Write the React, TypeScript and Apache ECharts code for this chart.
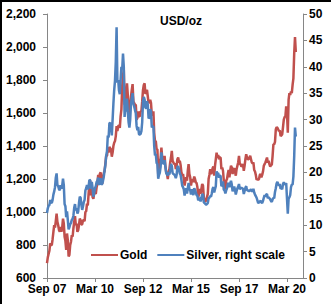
import React, { useEffect, useRef } from "react";
import * as echarts from "echarts";

// Semi-monthly observations, first point = early Sep 2007, step = half a month
const goldPrices: number[] = [
  690, 725, 745, 765, 810, 800, 800, 835,
  880, 920, 905, 945, 990, 940, 920, 890, 880, 910, 880, 905, 960, 930, 850, 825,
  770, 870, 830, 730, 740, 800, 820, 860,
  850, 900, 940, 975, 920, 930, 880, 890, 920, 960, 950, 925, 925, 950, 950, 945,
  1000, 1005, 1050, 1040, 1110, 1170, 1190, 1100,
  1140, 1090, 1080, 1115, 1115, 1110, 1150, 1170, 1225, 1190, 1230, 1240, 1200, 1170, 1205, 1235,
  1250, 1295, 1340, 1340, 1385, 1360, 1395, 1385,
  1380, 1335, 1360, 1400, 1420, 1430, 1460, 1520, 1490, 1520, 1525, 1510, 1580, 1620, 1760, 1830,
  1860, 1650, 1660, 1720, 1780, 1710, 1640, 1580,
  1640, 1700, 1740, 1775, 1670, 1660, 1650, 1650, 1560, 1570, 1610, 1580, 1580, 1610, 1610, 1670,
  1740, 1770, 1780, 1715, 1730, 1740, 1700, 1660,
  1670, 1680, 1660, 1590, 1590, 1610, 1480, 1430, 1430, 1380, 1380, 1230, 1260, 1320, 1320, 1390,
  1330, 1320, 1310, 1340, 1280, 1240, 1230, 1200,
  1240, 1260, 1300, 1330, 1370, 1310, 1300, 1290, 1295, 1260, 1275, 1320, 1330, 1300, 1310, 1285,
  1240, 1220, 1230, 1200, 1160, 1190, 1210, 1190,
  1250, 1290, 1230, 1210, 1160, 1190, 1200, 1180, 1215, 1200, 1180, 1175, 1150, 1090, 1110, 1140,
  1110, 1140, 1170, 1160, 1090, 1070, 1065, 1070,
  1090, 1110, 1200, 1225, 1260, 1230, 1240, 1265, 1275, 1220, 1280, 1320, 1360, 1330, 1345, 1320,
  1330, 1330, 1260, 1270, 1250, 1190, 1160, 1140,
  1190, 1200, 1230, 1255, 1210, 1250, 1280, 1270, 1230, 1260, 1265, 1245, 1220, 1260, 1280, 1300,
  1340, 1290, 1290, 1275, 1280, 1290, 1250, 1280,
  1320, 1350, 1330, 1320, 1320, 1330, 1340, 1320, 1300, 1295, 1300, 1255, 1245, 1225, 1195, 1200,
  1195, 1200, 1225, 1230, 1210, 1225, 1245, 1280,
  1290, 1300, 1315, 1330, 1300, 1310, 1290, 1275, 1285, 1285, 1340, 1410, 1410, 1425, 1500, 1515,
  1510, 1500, 1490, 1495, 1460, 1465, 1470, 1515,
  1560, 1575, 1580, 1640, 1600, 1480, 1680, 1720, 1710, 1730, 1720, 1770, 1810, 1960, 2060, 1970,
];

const silverPrices: number[] = [
  12.3, 13.2, 13.7, 13.8, 14.8, 14.3, 14.2, 14.8,
  15.8, 16.4, 17.2, 19.0, 19.8, 17.6, 17.4, 16.8, 16.6, 17.6, 16.9, 17.5, 18.8, 17.6, 14.0, 13.6,
  11.5, 12.6, 11.0, 9.2, 9.6, 10.2, 10.4, 11.0,
  11.2, 11.8, 13.3, 14.0, 12.8, 13.2, 12.2, 12.6, 14.2, 15.4, 15.2, 13.8, 12.9, 13.6, 14.4, 14.8,
  16.6, 17.0, 17.6, 16.8, 17.3, 18.6, 18.5, 16.9,
  18.2, 17.0, 15.4, 16.2, 17.0, 17.4, 18.2, 18.4, 19.0, 17.6, 18.4, 18.9, 17.7, 17.8, 18.4, 19.2,
  20.4, 21.4, 23.2, 24.0, 27.0, 26.6, 29.3, 29.4,
  28.6, 27.0, 30.0, 33.0, 35.6, 37.4, 41.0, 47.5, 37.0, 37.5, 35.5, 34.8, 37.5, 40.0, 39.5, 42.5,
  40.0, 30.5, 32.5, 31.5, 34.0, 31.5, 29.5, 28.5,
  30.0, 33.0, 34.0, 35.0, 33.0, 32.5, 31.8, 31.2, 28.8, 28.0, 28.6, 27.2, 27.2, 27.3, 27.8, 29.5,
  33.5, 34.3, 33.8, 32.2, 32.2, 33.5, 32.8, 30.2,
  30.4, 32.0, 31.5, 28.5, 28.7, 28.7, 25.0, 23.2, 23.5, 21.8, 21.6, 18.8, 19.5, 19.9, 21.0, 23.8,
  22.5, 21.8, 21.6, 22.3, 21.0, 19.9, 19.6, 19.4,
  20.0, 19.6, 20.5, 21.6, 21.2, 19.9, 19.7, 19.6, 19.4, 18.9, 19.5, 21.0, 21.2, 20.6, 19.8, 19.5,
  18.6, 17.5, 17.2, 16.8, 15.6, 16.5, 17.0, 16.0,
  17.0, 18.0, 16.8, 16.6, 15.8, 16.8, 16.3, 15.7, 17.0, 16.7, 16.2, 15.7, 15.6, 14.7, 15.0, 15.2,
  14.5, 15.2, 15.8, 15.8, 14.3, 14.2, 14.0, 13.9,
  14.0, 14.2, 15.1, 15.2, 15.5, 15.4, 16.0, 16.9, 17.2, 16.2, 16.8, 17.4, 20.2, 19.8, 19.9, 19.0,
  19.4, 19.3, 17.4, 17.6, 18.3, 16.7, 16.6, 16.0,
  16.6, 17.0, 17.8, 18.0, 17.2, 17.9, 18.4, 17.7, 16.4, 17.0, 17.3, 16.7, 15.8, 16.5, 17.0, 17.3,
  17.8, 16.8, 17.0, 17.1, 17.0, 16.9, 15.9, 16.5,
  17.1, 17.4, 16.6, 16.6, 16.5, 16.5, 16.6, 16.8, 16.5, 16.4, 16.9, 16.2, 15.8, 15.5, 15.2, 14.7,
  14.2, 14.3, 14.5, 14.6, 14.3, 14.2, 14.6, 15.2,
  15.7, 15.4, 15.8, 15.9, 15.1, 15.3, 15.1, 14.9, 14.6, 14.4, 14.9, 15.2, 15.1, 16.3, 17.0, 17.9,
  18.2, 17.8, 17.5, 17.8, 16.9, 17.0, 16.8, 17.8,
  18.1, 17.8, 17.7, 18.0, 15.0, 12.2, 15.0, 15.3, 15.7, 17.2, 17.7, 17.7, 19.2, 23.0, 28.5, 26.8,
];

const xTickLabels = ["Sep 07", "Mar 10", "Sep 12", "Mar 15", "Sep 17", "Mar 20"];
const monthsPerTick = 30;
const axisEndMonths = 160;
const seriesNames = ["Gold", "Silver, right scale"];
const unitTitle = "USD/oz";

const FONT = "'Liberation Sans', Arial, sans-serif";
const GOLD = "#C0504D";
const SILVER = "#4F81BD";
const AXIS = "#868686";

export default function App() {
  const ref = useRef<HTMLDivElement>(null);

  useEffect(() => {
    if (!ref.current) return;
    const chart = echarts.init(ref.current, null, { renderer: "svg" });
    const tickValues = xTickLabels.map((_, i) => i * monthsPerTick);
    const labelStyle = { color: "#000", fontFamily: FONT, fontSize: 12, fontWeight: "bold" as const };
    chart.setOption({
      animation: false,
      backgroundColor: "#fff",
      grid: { left: 47, right: 28, top: 14, bottom: 26, containLabel: false },
      title: {
        text: unitTitle,
        left: 160,
        top: 15,
        padding: 0,
        textStyle: { ...labelStyle },
      },
      legend: {
        data: seriesNames,
        left: 91,
        top: 249,
        padding: 0,
        itemGap: 10,
        itemWidth: 27,
        itemHeight: 2,
        icon: "rect",
        textStyle: { ...labelStyle, padding: [0, 0, 0, -3] },
      },
      xAxis: {
        type: "value",
        min: 0,
        max: axisEndMonths,
        interval: monthsPerTick,
        splitLine: { show: false },
        axisLine: { show: true, lineStyle: { color: AXIS, width: 1 } },
        axisTick: { show: true, length: 4, lineStyle: { color: AXIS }, customValues: tickValues },
        axisLabel: {
          ...labelStyle,
          margin: 5,
          customValues: tickValues,
          formatter: (v: number) => xTickLabels[Math.round(v / monthsPerTick)] ?? "",
        },
      },
      yAxis: [
        {
          type: "value",
          min: 600,
          max: 2200,
          interval: 200,
          position: "left",
          splitLine: { show: false },
          axisLine: { show: true, lineStyle: { color: AXIS, width: 1 } },
          axisTick: { show: true, length: 4, lineStyle: { color: AXIS } },
          axisLabel: {
            ...labelStyle,
            margin: 11,
            formatter: (v: number) => v.toLocaleString("en-US"),
          },
        },
        {
          type: "value",
          min: 0,
          max: 50,
          interval: 5,
          position: "right",
          splitLine: { show: false },
          axisLine: { show: true, lineStyle: { color: AXIS, width: 1 } },
          axisTick: { show: true, length: 4, lineStyle: { color: AXIS } },
          axisLabel: { ...labelStyle, margin: 6 },
        },
      ],
      series: [
        {
          name: seriesNames[0],
          type: "line",
          yAxisIndex: 0,
          showSymbol: false,
          symbol: "none",
          color: GOLD,
          lineStyle: { color: GOLD, width: 2.5 },
          data: goldPrices.map((v, i) => [i / 2, v]),
        },
        {
          name: seriesNames[1],
          type: "line",
          yAxisIndex: 1,
          showSymbol: false,
          symbol: "none",
          color: SILVER,
          lineStyle: { color: SILVER, width: 2.5 },
          data: silverPrices.map((v, i) => [i / 2, v]),
        },
      ],
    });
    return () => chart.dispose();
  }, []);

  return (
    <div style={{ position: "fixed", left: 0, top: 0, width: 331, height: 304, background: "#fff" }}>
      <div ref={ref} style={{ position: "absolute", left: 0, top: 0, width: 331, height: 304 }} />
      <div
        style={{
          position: "absolute",
          left: 0,
          top: 0,
          width: 331,
          height: 304,
          boxSizing: "border-box",
          borderTop: "2px solid #000",
          borderLeft: "2px solid #000",
          pointerEvents: "none",
        }}
      />
    </div>
  );
}
